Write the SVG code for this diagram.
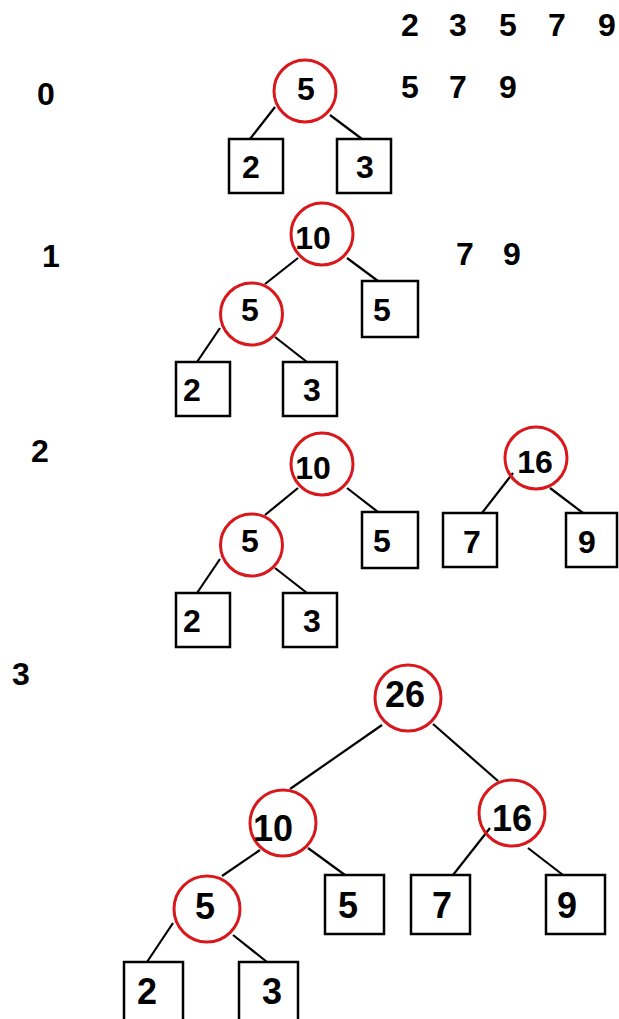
<svg xmlns="http://www.w3.org/2000/svg" width="619" height="1019" viewBox="0 0 619 1019">
<style>
.c{fill:none;stroke:#d9181c;stroke-width:3}
.b{fill:#fff;stroke:#000;stroke-width:2.5}
.e{stroke:#000;stroke-width:2.2;fill:none}
text{font-family:"Liberation Sans",Arial,sans-serif;font-weight:bold;font-size:32px;fill:#000;text-anchor:middle}
.L{font-size:36px}
</style>
<rect width="619" height="1019" fill="#fff"/>
<g id="labels">
<text x="46" y="105">0</text>
<text x="51" y="267">1</text>
<text x="40" y="462">2</text>
<text x="21" y="685">3</text>
<text x="410" y="36">2</text><text x="458" y="36">3</text><text x="508" y="36">5</text><text x="557" y="36">7</text><text x="607" y="36">9</text>
<text x="410" y="98">5</text><text x="458" y="98">7</text><text x="508" y="98">9</text>
<text x="465" y="265">7</text><text x="512" y="265">9</text>
</g>
<g id="connectors">
<line class="e" x1="275" y1="107" x2="250" y2="139"/>
<line class="e" x1="330" y1="115" x2="362" y2="139"/>
<line class="e" x1="298" y1="258" x2="265" y2="284"/>
<line class="e" x1="347" y1="258" x2="378" y2="281"/>
<line class="e" x1="220" y1="328" x2="197" y2="362"/>
<line class="e" x1="275" y1="337" x2="307" y2="362"/>
<line class="e" x1="298" y1="488" x2="265" y2="515"/>
<line class="e" x1="347" y1="488" x2="378" y2="512"/>
<line class="e" x1="220" y1="559" x2="197" y2="593"/>
<line class="e" x1="275" y1="568" x2="307" y2="593"/>
<line class="e" x1="513" y1="473" x2="482" y2="513"/>
<line class="e" x1="550" y1="488" x2="583" y2="513"/>
<line class="e" x1="382" y1="725" x2="290" y2="789"/>
<line class="e" x1="433" y1="724" x2="498" y2="781"/>
<line class="e" x1="260" y1="850" x2="222" y2="876"/>
<line class="e" x1="308" y1="848" x2="345" y2="875"/>
<line class="e" x1="490" y1="828" x2="453" y2="875"/>
<line class="e" x1="528" y1="848" x2="563" y2="875"/>
<line class="e" x1="173" y1="923" x2="147" y2="962"/>
<line class="e" x1="233" y1="935" x2="267" y2="962"/>
</g>
<g id="s0-n5"><circle class="c" cx="305" cy="91" r="31"/><text x="306" y="100">5</text></g>
<g id="s0-l2"><rect class="b" x="229" y="139" width="54" height="54"/><text x="251" y="178">2</text></g>
<g id="s0-l3"><rect class="b" x="337" y="139" width="54" height="54"/><text x="365" y="178">3</text></g>

<g id="s1-n10"><circle class="c" cx="322" cy="234" r="31"/><text x="313" y="249">10</text></g>
<g id="s1-n5"><circle class="c" cx="251.5" cy="314" r="31"/><text x="250" y="321">5</text></g>
<g id="s1-l5"><rect class="b" x="362" y="281" width="56" height="56"/><text x="382" y="321">5</text></g>
<g id="s1-l2"><rect class="b" x="176" y="362" width="54" height="54"/><text x="192" y="401">2</text></g>
<g id="s1-l3"><rect class="b" x="283" y="362" width="54" height="54"/><text x="312" y="401">3</text></g>

<g id="s2-n10"><circle class="c" cx="322" cy="464" r="31"/><text x="313" y="479">10</text></g>
<g id="s2-n5"><circle class="c" cx="251.5" cy="545" r="31"/><text x="250" y="552">5</text></g>
<g id="s2-l5"><rect class="b" x="362" y="512" width="56" height="56"/><text x="382" y="552">5</text></g>
<g id="s2-l2"><rect class="b" x="176" y="593" width="54" height="54"/><text x="192" y="632">2</text></g>
<g id="s2-l3"><rect class="b" x="283" y="593" width="54" height="54"/><text x="312" y="632">3</text></g>
<g id="s2-n16"><circle class="c" cx="536" cy="458" r="31"/><text x="535" y="473">16</text></g>
<g id="s2-l7"><rect class="b" x="443" y="513" width="54" height="54"/><text x="472" y="553">7</text></g>
<g id="s2-l9"><rect class="b" x="566" y="513" width="51" height="54"/><text x="587" y="553">9</text></g>

<g id="s3-n26"><circle class="c" cx="408" cy="698" r="33"/><text class="L" x="405" y="707">26</text></g>
<g id="s3-n10"><circle class="c" cx="283" cy="823" r="33"/><text class="L" x="273" y="841">10</text></g>
<g id="s3-n16"><circle class="c" cx="512" cy="813" r="33"/><text class="L" x="512" y="831">16</text></g>
<g id="s3-n5"><circle class="c" cx="207" cy="909" r="33"/><text class="L" x="205" y="919">5</text></g>
<g id="s3-l5"><rect class="b" x="325" y="875" width="59" height="59"/><text class="L" x="348" y="918">5</text></g>
<g id="s3-l7"><rect class="b" x="411" y="875" width="59" height="59"/><text class="L" x="442" y="918">7</text></g>
<g id="s3-l9"><rect class="b" x="546" y="875" width="59" height="59"/><text class="L" x="567" y="918">9</text></g>
<g id="s3-l2"><rect class="b" x="124" y="962" width="59" height="59"/><text class="L" x="147" y="1004">2</text></g>
<g id="s3-l3"><rect class="b" x="239" y="962" width="59" height="59"/><text class="L" x="272" y="1004">3</text></g>
</svg>
